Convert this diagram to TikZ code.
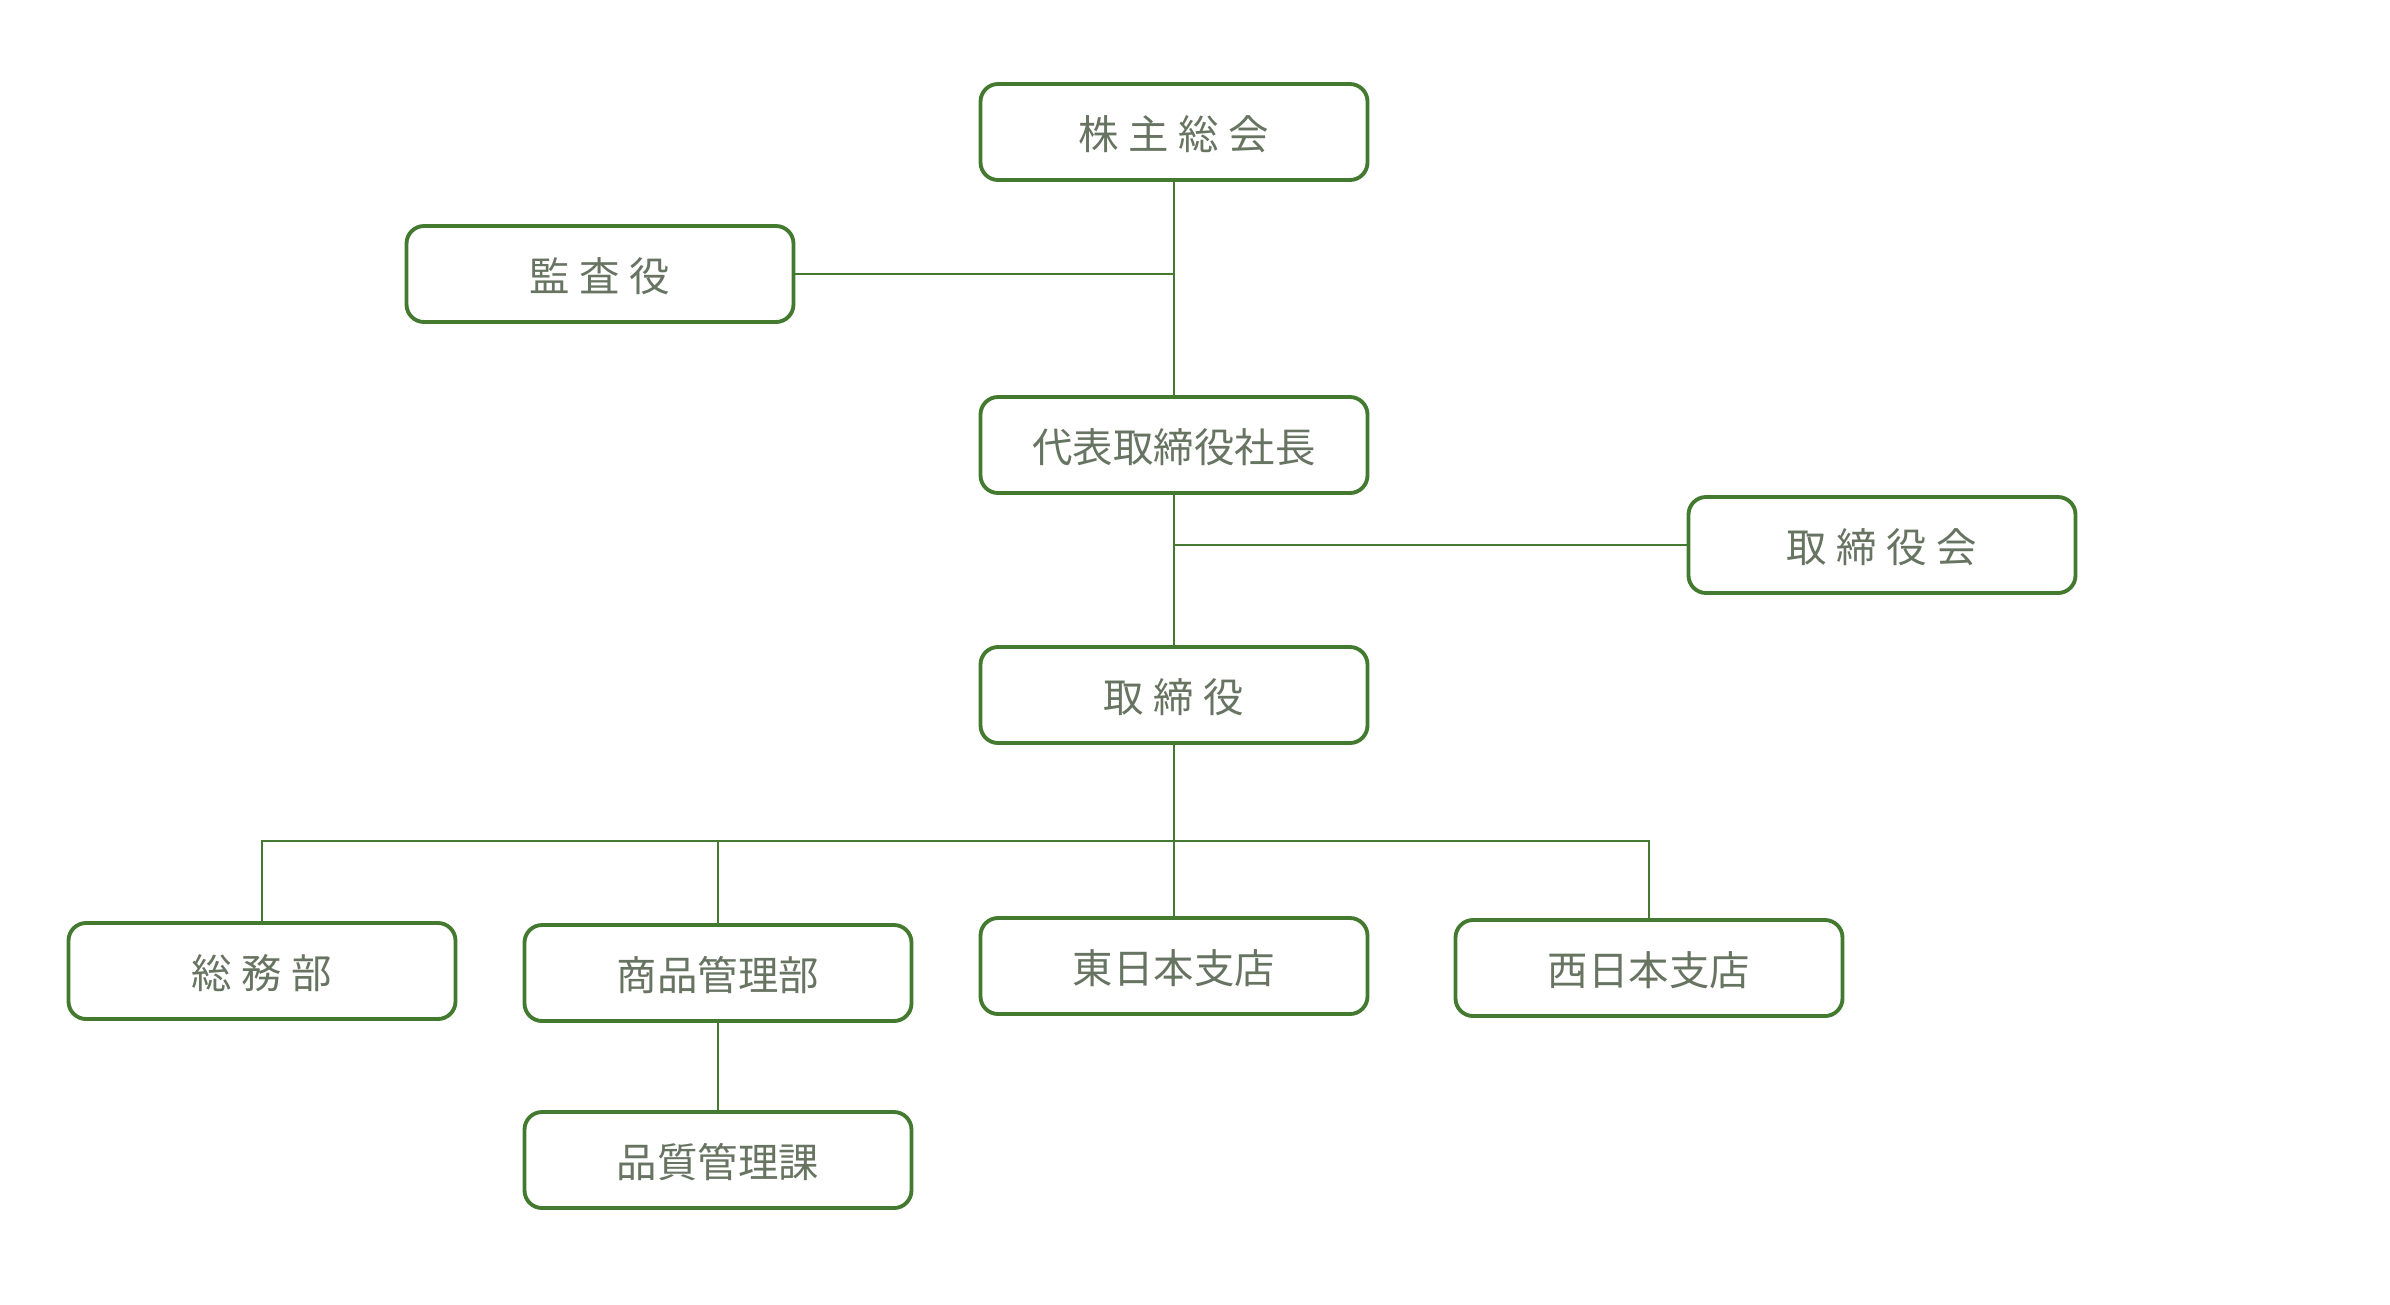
\documentclass[tikz,border=0pt]{standalone}
\usepackage{fontspec}
\newfontfamily\jpfont{Noto Sans CJK JP}
\usepackage{xcolor}
\usepackage{tikz}
\usetikzlibrary{positioning}

\definecolor{orggreen}{RGB}{68,122,48}
\definecolor{orgtext}{RGB}{104,116,98}
\newcommand{\jgap}{\hspace{0.24em}}

\begin{document}
\begin{tikzpicture}[
      box/.style={draw=orggreen, line width=1.1pt, rounded corners=5pt,
        fill=white, align=center, minimum width=3.87cm,
        minimum height=0.96cm, text=orgtext, text height=11pt,
        text depth=1pt, font=\jpfont\fontsize{11.5pt}{13pt}\selectfont},
      link/.style={draw=orggreen, line width=0.6pt}
    ]
    \useasboundingbox (0,0) rectangle (23.9,-13.04);

    \node[box] (agm) at (11.74,-1.32) {株\jgap 主\jgap 総\jgap 会};
    \node[box] (audit) at (6.00,-2.74) {監\jgap 査\jgap 役};
    \node[box] (pres) at (11.74,-4.45) {代表取締役社長};
    \node[box] (board) at (18.82,-5.45) {取\jgap 締\jgap 役\jgap 会};
    \node[box] (dir) at (11.74,-6.95) {取\jgap 締\jgap 役};

    \node[box] (gen) at (2.62,-9.71) {総\jgap 務\jgap 部};
    \node[box] (goods) at (7.18,-9.73) {商品管理部};
    \node[box] (east) at (11.74,-9.66) {東日本支店};
    \node[box] (west) at (16.49,-9.68) {西日本支店};
    \node[box] (qc) at (7.18,-11.60) {品質管理課};

    \coordinate (bus) at (11.74,-8.41);

    \draw[link] (agm) -- (pres);
    \draw[link] (audit.east) -- (audit.east -| agm.south);
    \draw[link] (pres) -- (dir);
    \draw[link] (board.west) -- (board.west -| pres.south);
    \draw[link] (dir.south) -- (east.north);
    \draw[link] (gen.north) |- (bus) -| (west.north);
    \draw[link] (goods.north) -- (goods.north |- bus);
    \draw[link] (goods) -- (qc);
  \end{tikzpicture}
\end{document}
